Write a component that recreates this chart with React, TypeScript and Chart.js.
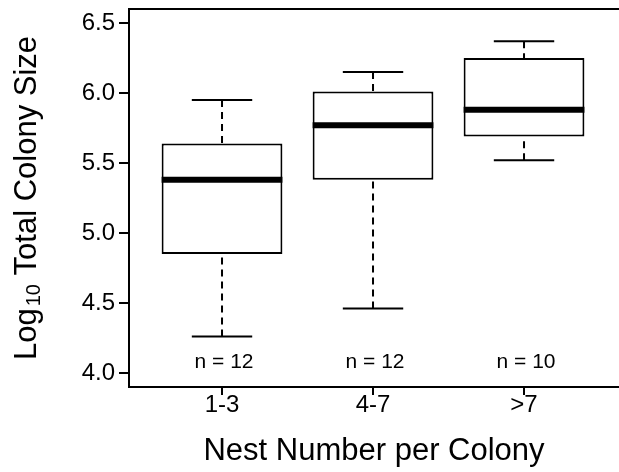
import React, { useEffect, useRef } from "react";
import { Chart, registerables } from "chart.js";

Chart.register(...registerables);

const FONT = '"Liberation Sans", Arial, Helvetica, sans-serif';

// ---- data ----
const categories = ["1-3", "4-7", ">7"];
const categoryPositions = [1, 2, 3];
const lowerQuartile = [4.85, 5.38, 5.69];
const upperQuartile = [5.64, 6.01, 6.25];
const medians = [5.38, 5.77, 5.88];
const whiskerLow = [4.26, 4.46, 5.52];
const whiskerHigh = [5.95, 6.15, 6.37];
const sampleSizes = [12, 12, 10];
const nLabelValue = 4.08;
const yTicks = [4.0, 4.5, 5.0, 5.5, 6.0, 6.5];
const yRange = [3.9, 6.6];
const xRange = [0.384, 3.629];

const boxPlotPlugin = {
  id: "boxPlotExtras",
  afterDatasetsDraw(chart: any) {
    const ctx = chart.ctx;
    const xs = chart.scales.x;
    const ys = chart.scales.y;
    const meta = chart.getDatasetMeta(0);
    ctx.save();
    ctx.strokeStyle = "#000";
    ctx.lineCap = "butt";
    categoryPositions.forEach((pos, i) => {
      const cx = xs.getPixelForValue(pos);
      const bar = meta.data[i];
      const half = bar.width / 2;
      // whiskers (dashed)
      ctx.lineWidth = 2;
      ctx.setLineDash([7, 5]);
      ctx.beginPath();
      ctx.moveTo(cx, ys.getPixelForValue(whiskerHigh[i]));
      ctx.lineTo(cx, ys.getPixelForValue(upperQuartile[i]));
      ctx.moveTo(cx, ys.getPixelForValue(whiskerLow[i]));
      ctx.lineTo(cx, ys.getPixelForValue(lowerQuartile[i]));
      ctx.stroke();
      // caps
      ctx.setLineDash([]);
      ctx.beginPath();
      const yh = ys.getPixelForValue(whiskerHigh[i]);
      const yl = ys.getPixelForValue(whiskerLow[i]);
      ctx.moveTo(cx - half / 2, yh);
      ctx.lineTo(cx + half / 2, yh);
      ctx.moveTo(cx - half / 2, yl);
      ctx.lineTo(cx + half / 2, yl);
      ctx.stroke();
      // median
      ctx.lineWidth = 6;
      const ym = ys.getPixelForValue(medians[i]);
      ctx.beginPath();
      ctx.moveTo(cx - half, ym);
      ctx.lineTo(cx + half, ym);
      ctx.stroke();
      // n labels
      ctx.fillStyle = "#000";
      ctx.font = `21px ${FONT}`;
      ctx.textAlign = "center";
      ctx.textBaseline = "middle";
      ctx.fillText(`n = ${sampleSizes[i]}`, cx + 2, ys.getPixelForValue(nLabelValue));
    });
    // frame (left, top, bottom; right edge lies beyond the canvas)
    const { left, top, right, bottom } = chart.chartArea;
    ctx.lineWidth = 2;
    ctx.beginPath();
    ctx.moveTo(right + 2, top);
    ctx.lineTo(left, top);
    ctx.lineTo(left, bottom);
    ctx.lineTo(right + 2, bottom);
    ctx.stroke();
    ctx.restore();
  },
  afterDraw(chart: any) {
    const ctx = chart.ctx;
    const { top, bottom } = chart.chartArea;
    ctx.save();
    ctx.translate(0, (top + bottom) / 2);
    ctx.rotate(-Math.PI / 2);
    ctx.fillStyle = "#000";
    ctx.textBaseline = "alphabetic";
    ctx.textAlign = "left";
    const big = `31px ${FONT}`;
    const small = `20px ${FONT}`;
    ctx.font = big;
    const w1 = ctx.measureText("Log").width;
    const w3 = ctx.measureText(" Total Colony Size").width;
    ctx.font = small;
    const w2 = ctx.measureText("10").width;
    const gap = 2;
    const total = w1 + gap + w2 + w3;
    let u = -total / 2;
    const baseline = 36;
    ctx.font = big;
    ctx.fillText("Log", u, baseline);
    u += w1 + gap;
    ctx.font = small;
    ctx.fillText("10", u, baseline + 4);
    u += w2;
    ctx.font = big;
    ctx.fillText(" Total Colony Size", u, baseline);
    ctx.restore();
  },
};

export default function App() {
  const canvasRef = useRef<HTMLCanvasElement | null>(null);

  useEffect(() => {
    const canvas = canvasRef.current;
    if (!canvas) return;
    const chart = new Chart(canvas, {
      type: "bar",
      data: {
        datasets: [
          {
            data: categoryPositions.map((x, i) => ({
              x,
              y: [lowerQuartile[i], upperQuartile[i]],
            })) as any,
            backgroundColor: "#ffffff",
            borderColor: "#000000",
            borderWidth: 2,
            borderSkipped: false,
            barPercentage: 0.8,
            categoryPercentage: 1,
          },
        ],
      },
      options: {
        responsive: false,
        animation: false,
        devicePixelRatio: 1,
        layout: { padding: { top: 9, right: 0, left: 0, bottom: 0 } },
        plugins: {
          legend: { display: false },
          tooltip: { enabled: false },
          title: { display: false },
        },
        scales: {
          x: {
            type: "linear",
            offset: false,
            min: xRange[0],
            max: xRange[1],
            afterBuildTicks: (scale: any) => {
              scale.ticks = categoryPositions.map((v) => ({ value: v }));
            },
            afterFit: (scale: any) => {
              scale.height = 85;
              scale.paddingLeft = 0;
              scale.paddingRight = 0;
            },
            border: { display: false },
            grid: {
              display: true,
              offset: false,
              drawOnChartArea: false,
              drawTicks: true,
              tickLength: 8,
              tickColor: "#000",
              tickWidth: 2,
              color: "#000",
              lineWidth: 2,
            },
            ticks: {
              autoSkip: false,
              maxRotation: 0,
              padding: -2,
              color: "#000",
              font: { family: FONT, size: 24, lineHeight: 1 },
              callback: (v: any) => {
                const idx = categoryPositions.indexOf(Number(v));
                return idx >= 0 ? categories[idx] : "";
              },
            },
            title: {
              display: true,
              text: "Nest Number per Colony",
              color: "#000",
              font: { family: FONT, size: 31, lineHeight: 1.2 },
              padding: { top: 0, bottom: 2 },
            },
          },
          y: {
            type: "linear",
            min: yRange[0],
            max: yRange[1],
            afterBuildTicks: (scale: any) => {
              scale.ticks = yTicks.map((v) => ({ value: v }));
            },
            afterFit: (scale: any) => {
              scale.width = 129;
              scale.paddingTop = 0;
              scale.paddingBottom = 0;
            },
            border: { display: false },
            grid: {
              display: true,
              drawOnChartArea: false,
              drawTicks: true,
              tickLength: 10,
              tickColor: "#000",
              tickWidth: 2,
              color: "#000",
              lineWidth: 2,
            },
            ticks: {
              padding: 4,
              color: "#000",
              font: { family: FONT, size: 24 },
              callback: (v: any) => Number(v).toFixed(1),
            },
          },
        },
      },
      plugins: [boxPlotPlugin],
    });
    return () => chart.destroy();
  }, []);

  return (
    <div style={{ position: "absolute", left: 0, top: 0, width: 619, height: 472, background: "#fff" }}>
      <canvas ref={canvasRef} width={619} height={472} style={{ display: "block" }} />
    </div>
  );
}
